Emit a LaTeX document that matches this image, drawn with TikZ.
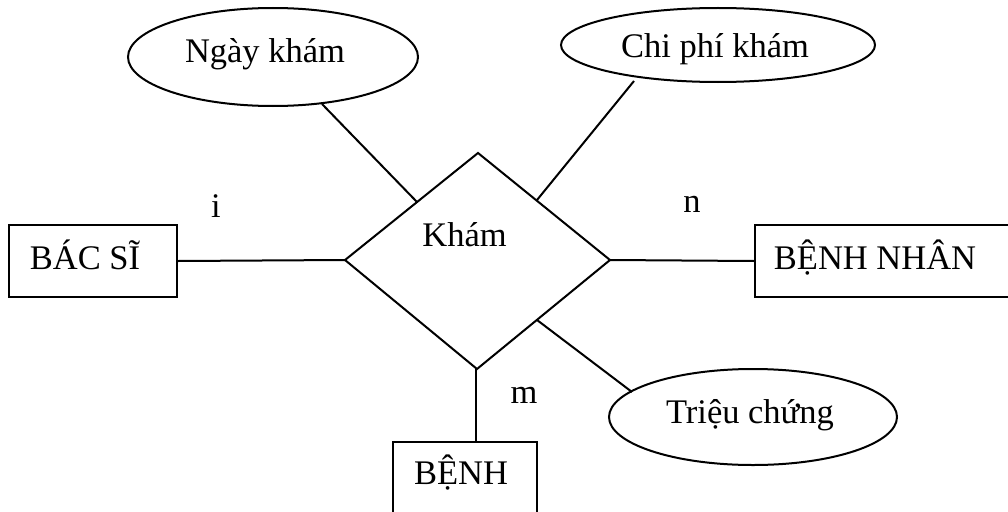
\documentclass[tikz,border=0pt]{standalone}
\usepackage{fontspec}
\setmainfont{Liberation Serif}
\usetikzlibrary{shapes.geometric}
\begin{document}
\begin{tikzpicture}[x=1pt,y=-1pt,
  every node/.style={font=\fontsize{34.5}{40}\selectfont},
  lbl/.style={inner sep=0pt,anchor=base},
  ent/.style={draw,line width=2pt,inner sep=0pt},
  attr/.style={draw,ellipse,line width=2pt,inner sep=0pt},
  conn/.style={line width=2pt},
  rel/.style={line width=2pt,line join=miter}]
\clip (0,0) rectangle (1008,511);
\fill[white] (0,0) rectangle (1008,511);
% entities
\node[ent,minimum width=168pt,minimum height=72pt] (bacsi) at (93,261) {};
\node[ent,minimum width=270pt,minimum height=72pt,anchor=west] (benhnhan) at (754,261) {};
\node[ent,minimum width=144pt,minimum height=100pt,anchor=north] (benh) at (465,441) {};
\node[lbl] (tbacsi) at (85,269) {BÁC SĨ};
\node[lbl] (tbenhnhan) at (875,269) {BỆNH NHÂN};
\node[lbl] (tbenh) at (461,484) {BỆNH};
% attributes
\node[attr,minimum width=290pt,minimum height=98pt] (ngay) at (273,57) {};
\node[attr,minimum width=314pt,minimum height=74pt] (chiphi) at (718,45) {};
\node[attr,minimum width=288pt,minimum height=96pt] (trieu) at (753,417) {};
\node[lbl] (tngay) at (265,63) {Ngày khám};
\node[lbl] (tchiphi) at (715,58) {Chi phí khám};
\node[lbl] (ttrieu) at (750,423) {Triệu chứng};
% relationship diamond
\coordinate (dl) at (345,260);
\coordinate (dr) at (610,260);
\coordinate (dt) at (478,153);
\coordinate (db) at (477,369);
\draw[rel] (dl) -- (dt) -- (dr) -- (db) -- cycle;
\node[lbl] (kham) at (464.5,246) {Khám};
% attachment points
\coordinate (pngay) at (322,104);
\coordinate (dngay) at (417,202);
\coordinate (pchi) at (634,81);
\coordinate (dchi) at (537,200);
\coordinate (ptrieu) at (632,392);
\coordinate (dtrieu) at (537,320);
\coordinate (dbot) at (476,369);
% connectors
\draw[conn] (bacsi.east) -- (dl);
\draw[conn] (dr) -- (benhnhan.west);
\draw[conn] (dbot) -- (dbot |- benh.north);
\draw[conn] (pngay) -- (dngay);
\draw[conn] (pchi) -- (dchi);
\draw[conn] (dtrieu) -- (ptrieu);
% cardinalities
\node[lbl] (ci) at (216,217) {i};
\node[lbl] (cn) at (692,212) {n};
\node[lbl] (cm) at (524,403) {m};
\end{tikzpicture}
\end{document}
